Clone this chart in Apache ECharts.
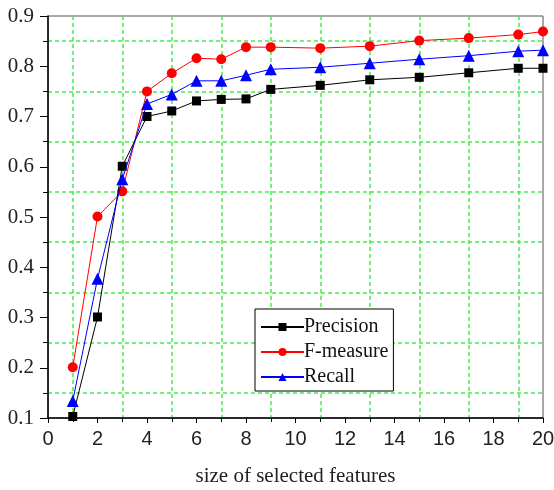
<!DOCTYPE html>
<html>
<head>
<meta charset="utf-8">
<script src="https://cdn.jsdelivr.net/npm/echarts@6/dist/echarts.min.js"></script>
<style>html,body{margin:0;padding:0;background:#fff}#c{width:554px;height:490px}</style>
</head>
<body>
<div id="c"></div>
<script>
const xValues = [1, 2, 3, 4, 5, 6, 7, 8, 9, 11, 13, 15, 17, 19, 20];
const precision = [0.103, 0.301, 0.601, 0.700, 0.711, 0.731, 0.734, 0.735, 0.754, 0.762, 0.773, 0.778, 0.787, 0.796, 0.796];
const fMeasure = [0.201, 0.501, 0.551, 0.750, 0.786, 0.816, 0.814, 0.838, 0.838, 0.836, 0.840, 0.851, 0.856, 0.863, 0.869];
const recall = [0.134, 0.377, 0.575, 0.725, 0.744, 0.771, 0.771, 0.782, 0.794, 0.798, 0.806, 0.814, 0.821, 0.830, 0.832];
const xTicks = [0, 2, 4, 6, 8, 10, 12, 14, 16, 18, 20];
const yTicks = [0.1, 0.2, 0.3, 0.4, 0.5, 0.6, 0.7, 0.8, 0.9];

const pair = arr => xValues.map((x, i) => [x, arr[i]]);
const gridLine = { show: true, lineStyle: { color: '#48ea48', width: 1.5, type: [4, 3] } };

const chart = echarts.init(document.getElementById('c'));
chart.setOption({
  animation: false,
  backgroundColor: '#fff',
  grid: { left: 48, right: 11, top: 16, bottom: 72, show: true, borderColor: '#555', borderWidth: 1,
    backgroundColor: 'transparent', containLabel: false, outerBoundsMode: 'none' },
  legend: {
    orient: 'vertical', left: 255, top: 309,
    backgroundColor: '#fff',
    borderColor: '#000', borderWidth: 1,
    padding: [8, 5, 4, 5],
    itemGap: 5, itemWidth: 43, itemHeight: 10,
    textStyle: { fontFamily: 'Liberation Serif', fontSize: 20, color: '#111', padding: [0, 0, 0, -5] },
    data: ['Precision', 'F-measure', 'Recall']
  },
  xAxis: {
    type: 'value', min: xTicks[0], max: xTicks[xTicks.length - 1], interval: 2,
    name: 'size of selected features', nameLocation: 'middle', nameGap: 48,
    nameTextStyle: { fontFamily: 'Liberation Serif', fontSize: 21, color: '#222' },
    axisLine: { show: true, lineStyle: { color: '#000', width: 1.5 } },
    axisTick: { show: true, length: 5, lineStyle: { color: '#000' } },
    minorTick: { show: true, splitNumber: 2, length: 4, lineStyle: { color: '#000' } },
    splitLine: { show: false },
    minorSplitLine: gridLine,
    axisLabel: { margin: 11, fontFamily: 'Liberation Sans', fontSize: 20, color: '#222',
      formatter: v => xTicks.includes(v) ? String(v) : '' }
  },
  yAxis: {
    type: 'value', min: yTicks[0], max: yTicks[yTicks.length - 1], interval: 0.1,
    axisLine: { show: true, lineStyle: { color: '#000', width: 1.5 } },
    axisTick: { show: true, length: 8, lineStyle: { color: '#000' } },
    minorTick: { show: true, splitNumber: 2, length: 5, lineStyle: { color: '#000' } },
    splitLine: { show: false },
    minorSplitLine: gridLine,
    axisLabel: { margin: 14, fontFamily: 'Liberation Serif', fontSize: 21, color: '#222',
      formatter: v => v.toFixed(1) }
  },
  series: [
    { name: 'Precision', type: 'line', data: pair(precision), symbol: 'rect', symbolSize: 9,
      itemStyle: { color: '#000' }, lineStyle: { color: '#000', width: 1 }, z: 3 },
    { name: 'F-measure', type: 'line', data: pair(fMeasure), symbol: 'circle', symbolSize: 10,
      itemStyle: { color: '#ff0000' }, lineStyle: { color: '#ff0000', width: 1 }, z: 2 },
    { name: 'Recall', type: 'line', data: pair(recall), symbol: 'triangle', symbolSize: 12,
      itemStyle: { color: '#0000ff' }, lineStyle: { color: '#0000ff', width: 1 }, z: 4 }
  ]
});
</script>
</body>
</html>
